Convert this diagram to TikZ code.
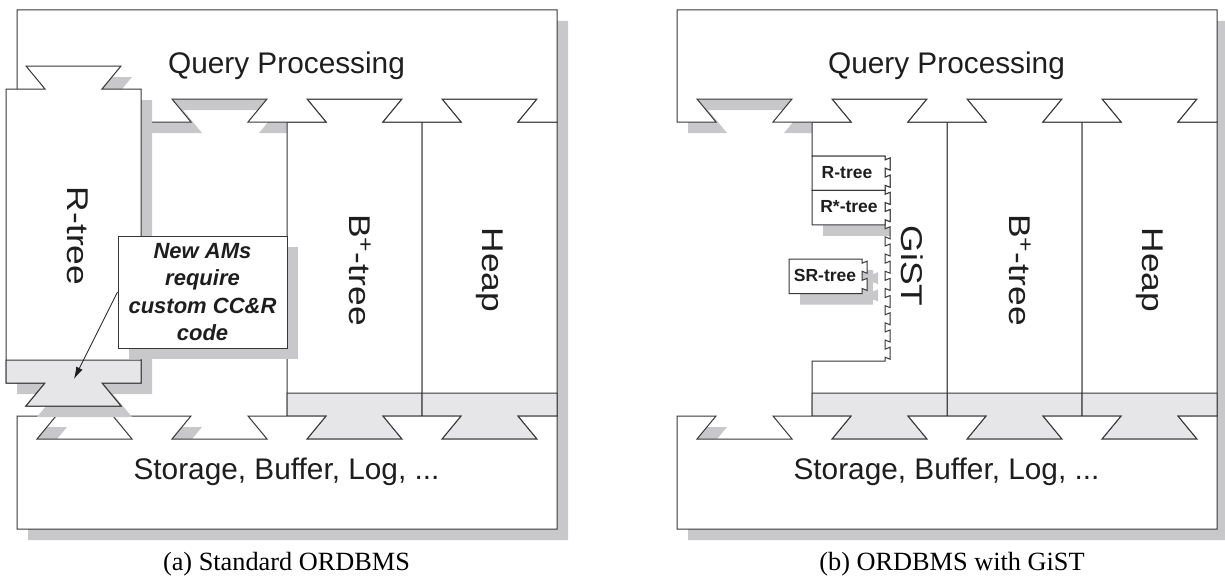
\documentclass[tikz,border=0pt]{standalone}
\usepackage{graphicx}
\usepackage{fontspec}
\setmainfont{Liberation Serif}
\newfontfamily\arialf{Liberation Sans}
\usetikzlibrary{arrows.meta,shadows}

\definecolor{shd}{RGB}{200,200,202}
\definecolor{bandc}{RGB}{230,230,232}
\definecolor{ln}{RGB}{55,55,55}
\definecolor{txt}{RGB}{30,30,30}

\tikzset{
  shadowfill/.style={fill=shd, draw=none},
  boxfill/.style={fill=white, draw=ln, line width=1pt},
  bandfill/.style={fill=bandc, draw=ln, line width=1pt},
  biglbl/.style={font=\arialf\fontsize{29.8}{34}\selectfont, text=txt, inner sep=0pt, anchor=base},
  vlbl/.style={font=\arialf\fontsize{30}{34}\selectfont, text=txt, inner sep=0pt, rotate=-90},
  smalllbl/.style={font=\arialf\bfseries\fontsize{17.5}{20}\selectfont, text=txt, inner sep=0pt, anchor=base},
  notebox/.style={draw=ln, line width=1pt, fill=white, minimum width=169pt, minimum height=112pt,
    align=center, font=\arialf\bfseries\itshape\fontsize{22}{27.3}\selectfont, text=txt, inner sep=0pt,
    drop shadow={shadow xshift=11pt, shadow yshift=-11pt, fill=shd, opacity=1}},
  arrowln/.style={draw=txt, line width=0.8pt, -{Latex[length=12pt,width=7pt]}},
  caplbl/.style={font=\fontsize{26.3}{30}\selectfont, text=black, inner sep=0pt, anchor=base},
}

% Query Processing block: #1 dx, #2 dy, #3 style
\newcommand{\QPshape}[3]{\path[#3] ({#1+17},{#2+10}) -- ({#1+557},{#2+10}) -- ({#1+557},{#2+122})
 -- ({#1+518},{#2+122}) -- ({#1+537},{#2+99}) -- ({#1+442},{#2+99}) -- ({#1+461},{#2+122})
 -- ({#1+383},{#2+122}) -- ({#1+402},{#2+99}) -- ({#1+307},{#2+99}) -- ({#1+326},{#2+122})
 -- ({#1+248},{#2+122}) -- ({#1+267},{#2+99}) -- ({#1+172},{#2+99}) -- ({#1+191},{#2+122})
 -- ({#1+113},{#2+122}) -- ({#1+132},{#2+99}) -- ({#1+37},{#2+99}) -- ({#1+56},{#2+122})
 -- ({#1+17},{#2+122}) -- cycle;}

% Storage block
\newcommand{\STshape}[3]{\path[#3] ({#1+17},{#2+416}) -- ({#1+56},{#2+416}) -- ({#1+37},{#2+439}) -- ({#1+132},{#2+439}) -- ({#1+113},{#2+416})
 -- ({#1+191},{#2+416}) -- ({#1+172},{#2+439}) -- ({#1+267},{#2+439}) -- ({#1+248},{#2+416})
 -- ({#1+326},{#2+416}) -- ({#1+307},{#2+439}) -- ({#1+402},{#2+439}) -- ({#1+383},{#2+416})
 -- ({#1+461},{#2+416}) -- ({#1+442},{#2+439}) -- ({#1+537},{#2+439}) -- ({#1+518},{#2+416})
 -- ({#1+557},{#2+416}) -- ({#1+557},{#2+529}) -- ({#1+17},{#2+529}) -- cycle;}

% Column module: #1 left x, #2 dy
\newcommand{\COLshape}[3]{\path[#3] ({#1},{#2+122}) -- ({#1+39},{#2+122}) -- ({#1+20},{#2+99}) -- ({#1+115},{#2+99}) -- ({#1+96},{#2+122}) -- ({#1+135},{#2+122})
 -- ({#1+135},{#2+416}) -- ({#1+96},{#2+416}) -- ({#1+115},{#2+439}) -- ({#1+20},{#2+439}) -- ({#1+39},{#2+416}) -- ({#1},{#2+416}) -- cycle;}

% Lower grey band of a column
\newcommand{\BANDshape}[3]{\path[#3] ({#1},{#2+393}) -- ({#1+135},{#2+393}) -- ({#1+135},{#2+416}) -- ({#1+96},{#2+416}) -- ({#1+115},{#2+439}) -- ({#1+20},{#2+439}) -- ({#1+39},{#2+416}) -- ({#1},{#2+416}) -- cycle;}

% GiST column with socket edge: #1 dx, #2 dy
\newcommand{\GISTshape}[3]{\path[#3] ({#1+812},{#2+122}) -- ({#1+851},{#2+122}) -- ({#1+832},{#2+99}) -- ({#1+927},{#2+99}) -- ({#1+908},{#2+122}) -- ({#1+947},{#2+122})
 -- ({#1+947},{#2+416}) -- ({#1+908},{#2+416}) -- ({#1+927},{#2+439}) -- ({#1+832},{#2+439}) -- ({#1+851},{#2+416}) -- ({#1+812},{#2+416})
 -- ({#1+812},{#2+361}) -- ({#1+885},{#2+361})
 \foreach \k in {11,10,...,0} { -- ({#1+885},{#2+168+17.2*\k}) -- ({#1+890},{#2+170+17.2*\k}) -- ({#1+890},{#2+158+17.2*\k}) -- ({#1+885},{#2+160+17.2*\k}) }
 -- ({#1+885},{#2+156}) -- ({#1+812},{#2+156}) -- cycle;}

% Small extension box with two tabs: #1 left, #2 top
\newcommand{\SBOXshape}[3]{\path[#3] ({#1},{#2}) -- ({#1+73},{#2}) -- ({#1+73},{#2+4}) -- ({#1+78},{#2+2}) -- ({#1+78},{#2+14}) -- ({#1+73},{#2+12})
 -- ({#1+73},{#2+21.2}) -- ({#1+78},{#2+19.2}) -- ({#1+78},{#2+31.2}) -- ({#1+73},{#2+29.2}) -- ({#1+73},{#2+34.4}) -- ({#1},{#2+34.4}) -- cycle;}

\begin{document}
\begin{tikzpicture}[x=1pt,y=-1pt]
\useasboundingbox (0,0) rectangle (1225,578);

%%%%%%%% (a) left panel
\QPshape{11}{11}{shadowfill}
\STshape{11}{11}{shadowfill}
\COLshape{298}{11}{shadowfill}
\COLshape{433}{11}{shadowfill}

\COLshape{287}{0}{boxfill}
\BANDshape{287}{0}{bandfill}
\COLshape{422}{0}{boxfill}
\BANDshape{422}{0}{bandfill}
\QPshape{0}{0}{boxfill}
\STshape{0}{0}{boxfill}

% misaligned R-tree
\COLshape{17}{-22}{shadowfill}
\COLshape{6}{-33}{boxfill}
\BANDshape{6}{-33}{bandfill}

\node[biglbl] (qpa) at (286.5,74) {Query Processing};
\node[biglbl] (sta) at (286.5,479) {Storage, Buffer, Log, ...};
\node[vlbl] (rtreea) at (78,236) {\scalebox{1.18}[1]{R-tree}};
\node[vlbl] (btreea) at (360,270) {\scalebox{1.18}[1]{B\textsuperscript{+}-tree}};
\node[vlbl] (heapa) at (490,270) {\scalebox{1.18}[1]{Heap}};

\node[notebox] (note) at (202.5,292) {New AMs\\require\\custom CC\&R\\code};
\coordinate (tip) at (74,379);
\draw[arrowln] (note.west) -- (tip);

\node[caplbl] (capa) at (286.5,570) {(a) Standard ORDBMS};

%%%%%%%% (b) right panel
\QPshape{671}{11}{shadowfill}
\STshape{671}{11}{shadowfill}
\COLshape{958}{11}{shadowfill}
\COLshape{1093}{11}{shadowfill}
\GISTshape{11}{11}{shadowfill}
\SBOXshape{823}{167}{shadowfill}
\SBOXshape{823}{201.4}{shadowfill}
\SBOXshape{800}{270.2}{shadowfill}

\COLshape{947}{0}{boxfill}
\BANDshape{947}{0}{bandfill}
\COLshape{1082}{0}{boxfill}
\BANDshape{1082}{0}{bandfill}
\GISTshape{0}{0}{boxfill}
\BANDshape{812}{0}{bandfill}
\QPshape{660}{0}{boxfill}
\STshape{660}{0}{boxfill}

\SBOXshape{812}{156}{boxfill}
\SBOXshape{812}{190.4}{boxfill}
\SBOXshape{789}{259.2}{boxfill}

\node[smalllbl] (rt) at (847,178) {R-tree};
\node[smalllbl] (rst) at (849,212) {R*-tree};
\node[smalllbl] (srt) at (825,281) {SR-tree};

\node[biglbl] (qpb) at (946.5,74) {Query Processing};
\node[biglbl] (stb) at (946.5,479) {Storage, Buffer, Log, ...};
\node[vlbl] (gist) at (912,266) {\scalebox{1.18}[1]{GiST}};
\node[vlbl] (btreeb) at (1020,270) {\scalebox{1.18}[1]{B\textsuperscript{+}-tree}};
\node[vlbl] (heapb) at (1150,270) {\scalebox{1.18}[1]{Heap}};

\node[caplbl] (capb) at (952,570) {(b) ORDBMS with GiST};
\end{tikzpicture}
\end{document}
